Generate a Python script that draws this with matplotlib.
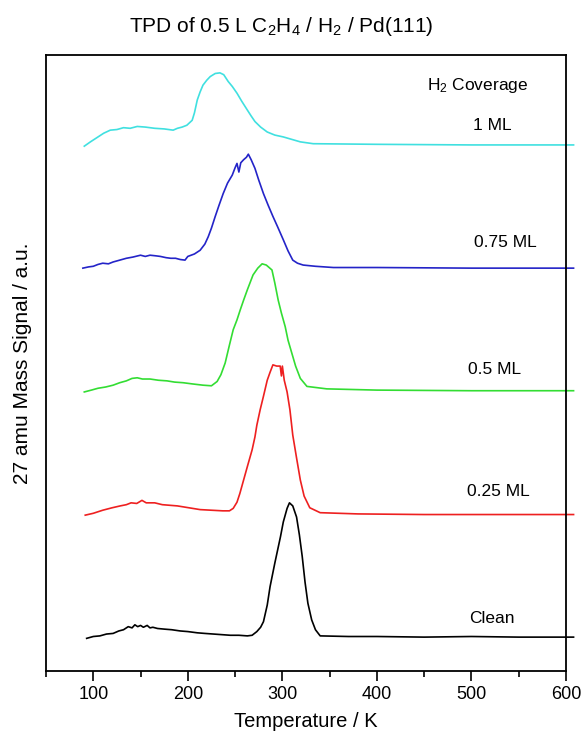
import numpy as np
import matplotlib
matplotlib.use("Agg")
import matplotlib.pyplot as plt
from matplotlib.ticker import MultipleLocator

plt.rcParams['font.family'] = ['Liberation Sans', 'DejaVu Sans']
plt.rcParams['mathtext.fontset'] = 'custom'
plt.rcParams['mathtext.rm'] = 'Liberation Sans'
plt.rcParams['mathtext.it'] = 'Liberation Sans:italic'

# temperature (K) and signal (a.u., offset traces)
t_clean = [93, 100, 107, 114, 121, 127, 132, 137, 141, 144, 147, 150, 153, 157, 160, 163, 168, 175, 183, 192,
           200, 210, 218, 227, 236, 245, 254, 263, 268, 273, 277, 280,
           284, 287, 292, 298, 301, 305, 307.5, 311, 315, 318, 321, 324, 327, 331, 335, 340, 370, 400, 450, 500, 550, 608]
s_clean = [5.3, 5.6, 5.7, 6.0, 6.1, 6.5, 6.7, 7.2, 7.0, 7.5, 7.2, 7.4, 7.1, 7.4, 7.0, 7.1, 6.9, 6.8, 6.7, 6.5,
           6.4, 6.2, 6.1, 6.0, 5.9, 5.8, 5.8, 5.7, 5.8, 6.4, 7.1, 8.0,
           10.7, 13.7, 17.5, 21.8, 24.2, 26.4, 27.3, 26.8, 25.0, 22.1, 18.6, 14.4, 11.0, 8.3, 6.7, 5.7, 5.6, 5.6, 5.5, 5.6, 5.5, 5.5]

t_025 = [91.5, 100, 110, 120, 128.5, 135, 140, 146, 151.5, 156, 165, 173, 181, 189, 197, 205, 213, 225, 237, 244, 248, 252, 255, 259, 263, 268, 271,
         273, 276.5, 280, 284, 287, 290, 294, 297.7, 299, 300, 302, 305, 308, 311, 315, 319, 323, 329, 340, 380, 450, 520, 608]
s_025 = [25.3, 25.6, 26.1, 26.5, 26.8, 27.0, 27.3, 27.2, 27.7, 27.3, 27.3, 27.0, 26.9, 26.8, 26.6, 26.4, 26.2, 26.1, 26.0, 26.0, 26.4, 27.4, 28.8, 31.0, 33.2, 35.9, 38.0,
         39.9, 42.4, 44.6, 47.2, 48.5, 49.7, 49.5, 49.5, 47.9, 49.5, 47.2, 45.3, 42.4, 38.3, 34.6, 31.0, 28.4, 26.5, 25.7, 25.5, 25.4, 25.4, 25.4]

t_05 = [90.5, 98, 105, 113, 121, 128, 135, 141, 146.5, 152, 160, 169, 178, 186, 195, 205, 216, 225, 231, 235, 239.5, 244, 248, 252, 255.4,
        259, 263, 266, 269, 274, 278.6, 283, 289, 292, 295.6, 299, 303, 306, 310, 314, 319, 326, 347, 400, 500, 608]
s_05 = [45.3, 45.6, 45.9, 46.1, 46.4, 46.8, 47.1, 47.5, 47.6, 47.4, 47.4, 47.2, 47.1, 46.9, 46.8, 46.6, 46.4, 46.3, 47.0, 48.1, 50.0, 52.9, 55.4, 57.0, 58.6,
        60.2, 61.9, 63.1, 64.3, 65.4, 66.1, 65.9, 65.1, 63.0, 60.2, 58.1, 55.9, 53.7, 51.6, 49.5, 47.5, 46.2, 45.8, 45.6, 45.5, 45.5]

t_075 = [89, 95, 100, 105, 110, 116, 121, 128, 135, 142, 150, 155, 160, 166, 171, 177, 182, 187, 192, 197, 200, 207, 213, 218, 221.6, 225, 229,
         233, 237.4, 242, 247, 250, 252, 254, 256, 259, 262, 264, 267, 271, 275, 280, 285, 290, 295,
         301, 306, 311, 316, 322, 335, 354, 400, 500, 608]
s_075 = [65.4, 65.6, 65.7, 66.0, 66.2, 66.1, 66.4, 66.7, 67.0, 67.2, 67.5, 67.3, 67.5, 67.4, 67.3, 67.1, 67.0, 67.0, 66.8, 66.7, 67.3, 67.7, 68.3, 69.3, 70.5, 71.9, 73.8,
         75.6, 77.5, 79.2, 80.5, 81.7, 82.4, 81.0, 82.5, 83.0, 83.4, 83.9, 83.0, 81.6, 79.7, 77.5, 75.6, 73.8, 72.1,
         70.0, 68.2, 66.7, 66.2, 65.9, 65.7, 65.5, 65.5, 65.4, 65.4]

t_1 = [90.5, 97, 104, 111, 118, 125, 132, 139, 146.5, 155, 165, 175, 184.5, 189, 194, 199, 204.6, 207, 210, 213, 216, 220, 223.7, 229, 234, 238, 242.7,
       247, 252, 257, 262.8, 267, 271, 277, 284, 292, 301, 310, 319, 332.6, 400, 500, 608]
s_1 = [85.2, 85.9, 86.6, 87.3, 87.8, 87.9, 88.2, 88.1, 88.4, 88.3, 88.1, 88.0, 87.8, 88.1, 88.3, 88.6, 89.4, 90.6, 92.7, 94.0, 95.1, 95.9, 96.5, 97.0, 97.1, 96.8, 95.7,
       94.9, 93.8, 92.5, 91.1, 90.1, 89.2, 88.3, 87.5, 87.0, 86.7, 86.3, 85.9, 85.6, 85.5, 85.4, 85.4]

traces = [(t_clean, s_clean, "black"), (t_025, s_025, "#ee2020"), (t_05, s_05, "#33dd33"),
          (t_075, s_075, "#2424c8"), (t_1, s_1, "#40e0e0")]

labels = ["Clean", "0.25 ML", "0.5 ML", "0.75 ML", "1 ML"]
label_x = [522, 528, 524, 536, 522]
label_y = [8.6, 29.2, 49.0, 69.6, 88.5]

fig = plt.figure(figsize=(5.83, 7.36), dpi=100)
ax = fig.add_axes([46/583, 1-671/736, 520/583, 616/736])

for t, s, c in traces:
    ax.plot(t, s, color=c, lw=1.2, clip_on=False)

for lab, x, y in zip(labels, label_x, label_y):
    ax.text(x, y, lab, ha="center", va="center", fontsize=12.5)
ax.text(507, 95.1, "H$_2$ Coverage", ha="center", va="center", fontsize=12.5)

ax.set_xlim(50, 600)
ax.set_ylim(0, 100)
ax.xaxis.set_major_locator(MultipleLocator(100))
ax.xaxis.set_minor_locator(MultipleLocator(50))
ax.tick_params(axis="x", which="major", direction="out", length=7, width=1.2, labelsize=13, pad=4)
ax.tick_params(axis="x", which="minor", direction="out", length=4, width=1.2)
ax.set_yticks([])
for sp in ax.spines.values():
    sp.set_linewidth(1.3)

ax.set_xlabel("Temperature / K", fontsize=14.5, labelpad=6)
ax.set_ylabel("27 amu Mass Signal / a.u.", fontsize=15, labelpad=10)
fig.text(281.5/583, 1-27/736, "TPD of 0.5 L C$_2$H$_4$ / H$_2$ / Pd(111)", ha="center", va="center", fontsize=15)

fig.savefig("out.png", dpi=100)
